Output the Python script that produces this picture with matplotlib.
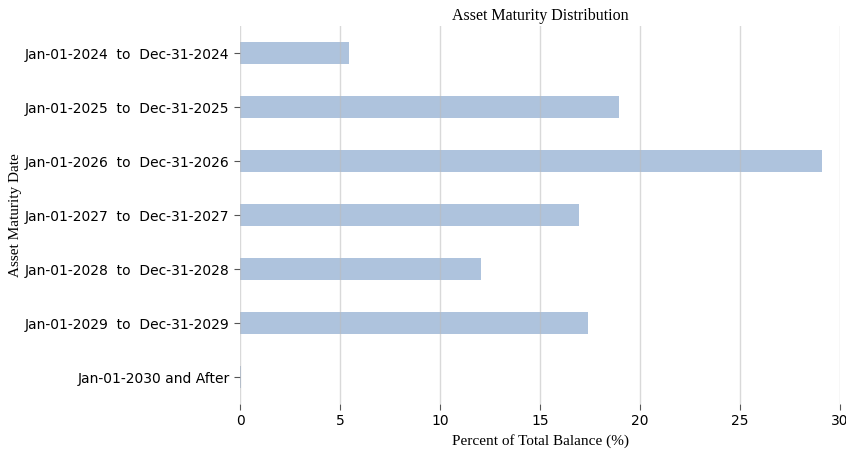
import matplotlib
matplotlib.use("Agg")
import matplotlib.pyplot as plt

categories = [
    "Jan-01-2024  to  Dec-31-2024",
    "Jan-01-2025  to  Dec-31-2025",
    "Jan-01-2026  to  Dec-31-2026",
    "Jan-01-2027  to  Dec-31-2027",
    "Jan-01-2028  to  Dec-31-2028",
    "Jan-01-2029  to  Dec-31-2029",
    "Jan-01-2030 and After",
]
percent = [5.45, 18.95, 29.1, 16.95, 12.05, 17.4, 0.05]
xticks = [0, 5, 10, 15, 20, 25, 30]

SERIF = ["Liberation Serif", "DejaVu Serif"]

fig = plt.figure(figsize=(8.46, 4.53), dpi=100)
ax = fig.add_axes([0.2837, 0.108, 0.7093, 0.8346])

ypos = list(range(len(categories)))
ax.barh(ypos, percent, height=0.4, color="#aac0dc", alpha=0.95, zorder=1)
# light vertical grid, drawn over the bars like the original
for x in xticks:
    ax.axvline(x, color="#bbbbbb", linewidth=1.0, alpha=0.55, zorder=2)

ax.set_yticks(ypos)
ax.set_yticklabels(categories, fontsize=10)
ax.set_ylim(len(categories) - 0.5, -0.5)
ax.set_xlim(0, 30)
ax.set_xticks(xticks)
ax.tick_params(axis="x", labelsize=10, length=4, color="#555555")
ax.tick_params(axis="y", length=4, color="#555555")
for s in ax.spines.values():
    s.set_visible(False)

ax.set_title("Asset Maturity Distribution", family=SERIF, fontsize=11.5, pad=4)
ax.set_xlabel("Percent of Total Balance (%)", family=SERIF, fontsize=11)
ax.set_ylabel("Asset Maturity Date", family=SERIF, fontsize=11, labelpad=2)

fig.savefig("out.png", dpi=100)
